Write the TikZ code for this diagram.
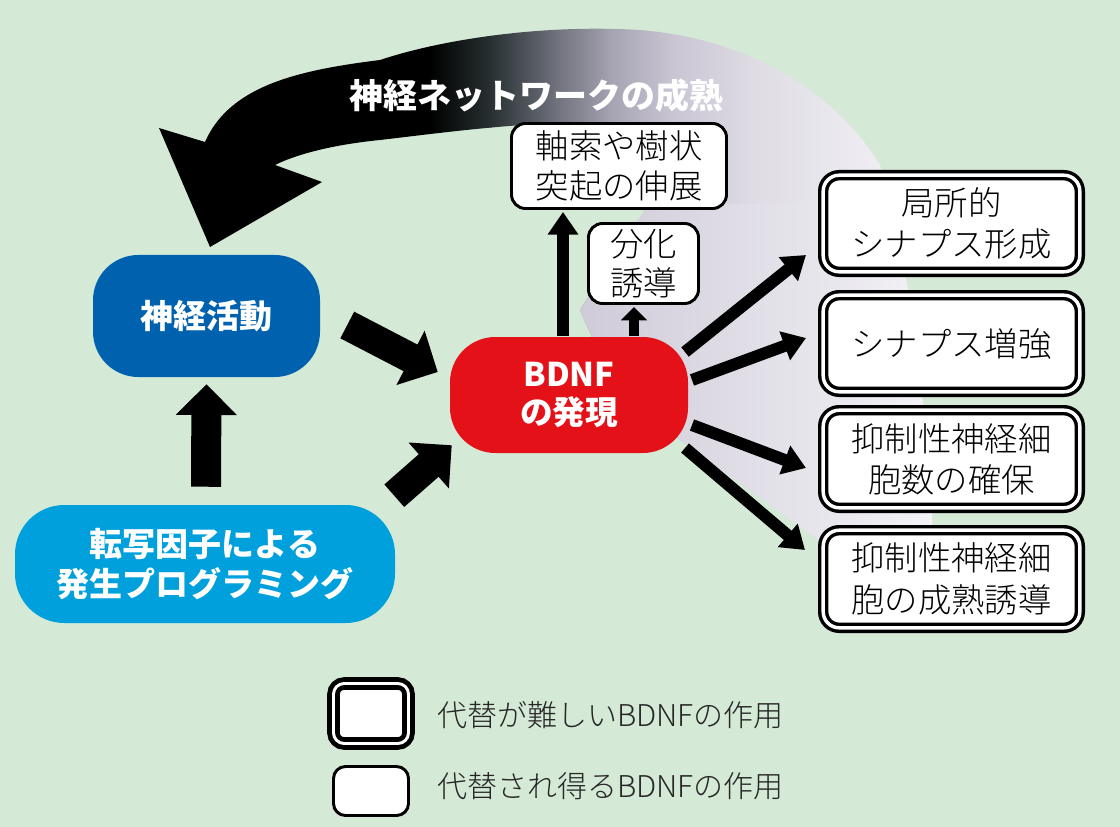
\documentclass[tikz,border=0pt]{standalone}
\usepackage{fontspec}
\setmainfont{Noto Sans CJK JP}
\IfFontExistsTF{Noto Sans CJK JP Light}{\newfontfamily\lightjp{Noto Sans CJK JP Light}}{\newfontfamily\lightjp{Noto Sans CJK JP}}
\usetikzlibrary{arrows.meta,calc}
\definecolor{bg}{RGB}{212,233,214}
\definecolor{nablue}{RGB}{0,98,174}
\definecolor{tfblue}{RGB}{0,160,221}
\definecolor{bdred}{RGB}{228,18,24}
\definecolor{sA}{RGB}{40,48,50}
\definecolor{sB}{RGB}{105,108,118}
\definecolor{sC}{RGB}{165,162,178}
\definecolor{sD}{RGB}{200,196,210}
\definecolor{sE}{RGB}{222,219,228}
\definecolor{sF}{RGB}{236,234,240}
\definecolor{sG}{RGB}{245,244,247}
\definecolor{fA}{RGB}{205,201,215}
\definecolor{fB}{RGB}{246,245,248}
\newcommand{\swooshpath}{(210,247) -- (322,182) -- (275,165) .. controls (295,155) and (330,145) .. (380,140) .. controls (440,133) and (520,122) .. (600,122) .. controls (650,122) and (672,160) .. (660,190) -- (643,213) -- (580,310) -- (620,400) -- (680,440) -- (830,548) -- (900,600) -- (935,560) -- (932,520) .. controls (925,420) and (918,300) .. (880,165) .. controls (840,100) and (760,40) .. (640,30) .. controls (540,24) and (440,40) .. (380,60) .. controls (300,70) and (230,85) .. (205,142) -- (159,128) -- cycle}
\begin{document}
\begin{tikzpicture}[x=0.75pt,y=-0.75pt,
  whitebox/.style={draw=black, line width=2.2pt, fill=white, rounded corners=10.5pt, inner sep=0pt, align=center, font=\lightjp\fontsize{25}{29.5}\selectfont},
  dblbox/.style={draw=black, line width=2.6pt, double=white, double distance=2.6pt, fill=white, rounded corners=12pt, inner sep=0pt, align=center, font=\lightjp\fontsize{25}{31}\selectfont, minimum width=192.45pt},
  colbox/.style={rounded corners=34pt, inner sep=0pt, align=center, text=white, font=\bfseries\fontsize{24.75}{29.5}\selectfont},
  bigarr/.style={line width=22.5pt, -{Triangle[length=23pt, width=44.5pt]}},
  thinarr/.style={line width=9pt, -{Triangle[length=17pt, width=22pt]}},
  smallarr/.style={line width=8pt, -{Triangle[length=10pt, width=19pt]}},
  legtext/.style={anchor=west, inner sep=0pt, font=\lightjp\fontsize{22.5}{26}\selectfont, text=black!85}
]
\fill[bg] (0,0) rectangle (1120,827);
\useasboundingbox (0,0) rectangle (1120,827);

% swoosh: curved arrow merging into fan
\begin{scope}
  \clip \swooshpath;
  \fill[black] (140,0) rectangle (431,620);
  \shade[left color=black, right color=sA] (430,0) rectangle (491,620);
  \shade[left color=sA, right color=sB] (490,0) rectangle (551,620);
  \shade[left color=sB, right color=sC] (550,0) rectangle (611,620);
  \shade[left color=sC, right color=sD] (610,0) rectangle (671,620);
  \shade[left color=sD, right color=sE] (670,0) rectangle (751,620);
  \shade[left color=sE, right color=sF] (750,0) rectangle (851,620);
  \shade[left color=sF, right color=sG] (850,0) rectangle (960,620);
  \shade[left color=fA, right color=fB] (560,205) rectangle (960,620);
\end{scope}
\node[text=white, font=\bfseries\fontsize{25.5}{30}\selectfont, inner sep=0pt] (nettxt) at (536,96) {神経ネットワークの成熟};

% main nodes
\node[colbox, fill=nablue, minimum width=170.25pt, minimum height=91.5pt] (na) at (206.5,316) {神経活動};
\node[colbox, fill=tfblue, rounded corners=37pt, minimum width=285pt, minimum height=88.5pt] (tf) at (205,564) {転写因子による\\発生プログラミング};
\node[colbox, fill=bdred, minimum width=178.5pt, minimum height=87pt, font=\bfseries\fontsize{24.5}{28.5}\selectfont] (bdnf) at (569,395) {BDNF\\の発現};

\node[whitebox, minimum width=161.25pt, minimum height=63.75pt] (ax) at (619,166) {軸索や樹状\\突起の伸展};
\node[whitebox, minimum width=82.5pt, minimum height=60pt] (diff) at (643.5,263.5) {分化\\誘導};

\node[dblbox, minimum height=72.45pt] (r1) at (951.5,223.5) {局所的\\シナプス形成};
\node[dblbox, minimum height=72.45pt] (r2) at (951.5,343.5) {シナプス増強};
\node[dblbox, minimum height=73.2pt] (r3) at (951.5,459) {抑制性神経細\\胞数の確保};
\node[dblbox, minimum height=73.2pt] (r4) at (951.5,579) {抑制性神経細\\胞の成熟誘導};

% arrows
\draw[bigarr] ($(tf.north)+(1,-18)$) -- ($(na.south)+(0,7)$);
\draw[bigarr] ($(na.east)+(27,9)$) -- ($(bdnf.west)+(-12,-23)$);
\draw[bigarr] ($(tf.north east)+(-1,-9)$) -- ($(bdnf.south west)+(2,-8)$);

\draw[thinarr] ($(bdnf.north)+(-6,-1)$) -- ($(ax.south)+(-56,2)$);
\draw[smallarr] ($(bdnf.north)+(65,-1)$) -- ($(diff.south)+(-9.5,2)$);

\draw[thinarr] ($(bdnf.center)+(116,-43)$) -- ($(r1.center)+(-145.5,31.5)$);
\draw[thinarr] ($(bdnf.center)+(123,-15)$) -- ($(r2.center)+(-145.5,-5.5)$);
\draw[thinarr] ($(bdnf.center)+(123,30)$) -- ($(r3.center)+(-145.5,9)$);
\draw[thinarr] ($(bdnf.center)+(116,53)$) -- ($(r4.center)+(-146.5,-29)$);

% legend
\node[draw=black, line width=3.6pt, double=white, double distance=2.2pt, fill=white, rounded corners=8pt, minimum width=56.25pt, minimum height=45pt, inner sep=0pt] (legd) at (371,713.5) {};
\node[draw=black, line width=2.2pt, fill=white, rounded corners=9pt, minimum width=56.25pt, minimum height=36.75pt, inner sep=0pt] (legs) at (371,791) {};
\node[legtext] (legdt) at (437,715) {代替が難しいBDNFの作用};
\node[legtext] (legst) at (437,786) {代替され得るBDNFの作用};
\end{tikzpicture}
\end{document}
